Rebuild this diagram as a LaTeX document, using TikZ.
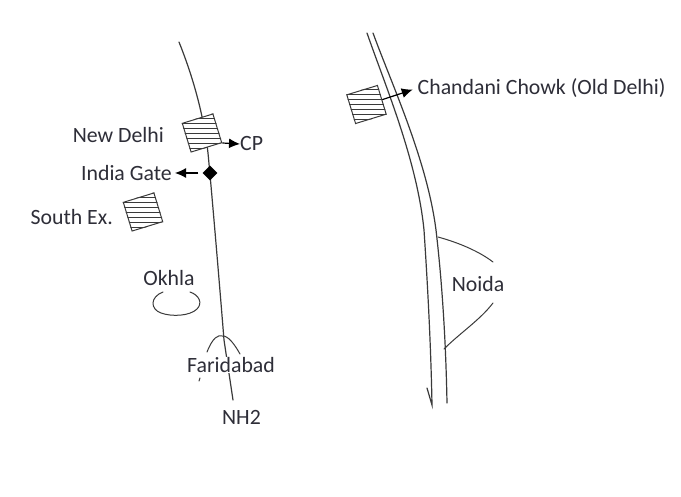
\documentclass[tikz,border=0pt]{standalone}
\usepackage{fontspec}
\setmainfont{Carlito}
\usetikzlibrary{shapes.geometric,arrows.meta}
\definecolor{ink}{HTML}{3A3A3A}
\definecolor{txt}{HTML}{2E2E38}
\tikzset{
  road/.style={draw=ink,line width=1.2pt,line cap=round},
  lbl/.style={text=txt,font=\fontsize{21.8}{25}\selectfont,inner sep=0pt},
  pointer/.style={draw=black,line width=1.2pt,-{Latex[length=11pt,width=10pt]}},
  hatchbox/.style={draw=ink,line width=1pt,rectangle,rotate=17,minimum width=32pt,minimum height=30pt,inner sep=0pt,fill=white},
}
\newcommand{\hatchlines}[3]{%
  \begin{scope}
    \clip (#1.north west) -- (#1.north east) -- (#1.south east) -- (#1.south west) -- cycle;
    \foreach \h in {-25,-20,...,25}
      \draw[ink,line width=0.8pt] (#2-30,#3+\h) -- (#2+30,#3+\h);
  \end{scope}
}
\begin{document}
\begin{tikzpicture}[x=1pt,y=-1pt]
\useasboundingbox (0,0) rectangle (681,497);
\fill[white] (0,0) rectangle (681,497);
% left highway
\coordinate (rs) at (179,42);
\coordinate (re) at (233,400);
\draw[road] (rs) .. controls (191,72) and (203,110) .. (208,153)
  .. controls (212,195) and (220,290) .. (224,340) -- (re);
\draw[road,line width=1pt] (207,352) .. controls (213,337) and (218,335) .. (222,336)
  .. controls (228,335) and (235,345) .. (240,354);
\draw[road,line width=1pt] (200,378) -- (199,381);
\node[lbl,fill=white] (far) at (231,365) {Faridabad};
\node[lbl] (nh) at (241.5,417) {NH2};
% boxes
\node[hatchbox] (nd) at (202,133) {};
\hatchlines{nd}{202}{133}
\node[hatchbox] (se) at (143,212) {};
\hatchlines{se}{143}{212}
\node[hatchbox] (cb) at (366.5,104.5) {};
\hatchlines{cb}{366.5}{104.5}
\node[diamond,fill=black,minimum size=15pt,inner sep=0pt] (ig) at (210,173) {};
\node[lbl,anchor=east] (ndl) at (164,135) {New Delhi};
\node[lbl,anchor=west] (cp) at (240,144) {CP};
\node[lbl,anchor=east] (igl) at (172,173) {India Gate};
\node[lbl,anchor=east] (sel) at (113,217) {South Ex.};
\node[lbl] (ok) at (169,278) {Okhla};
\draw[pointer] (nd.south east) -- (cp.west);
\draw[pointer,shorten >=3pt,shorten <=4pt] (ig.west) -- (igl.east);
% Okhla loop
\coordinate (oa) at (163,292);
\coordinate (ob) at (190,292);
\draw[road,line width=1pt] (oa) .. controls (150,297) and (150,309) .. (161,313)
  .. controls (172,317) and (190,316) .. (197,309)
  .. controls (203,303) and (199,295) .. (ob);
% right highway
\coordinate (la) at (367,33);
\coordinate (lb) at (432,405);
\coordinate (lt) at (427,388);
\coordinate (ra) at (373,33);
\coordinate (rb) at (447,403);
\draw[road] (la) .. controls (385,85) and (417,160) .. (424,230) .. controls (428,290) and (431,350) .. (lb) -- (lt);
\draw[road] (ra) .. controls (392,85) and (427,160) .. (436,230) .. controls (443,290) and (446,350) .. (rb);
\node[lbl] (noida) at (478,284) {Noida};
\coordinate (na) at (438,237);
\coordinate (nb) at (493,262);
\coordinate (nc) at (493,303);
\coordinate (nd2) at (444,349);
\draw[road,line width=1pt] (na) .. controls (460,243) and (480,252) .. (nb);
\draw[road,line width=1pt] (nc) .. controls (480,320) and (460,333) .. (nd2);
\node[lbl,anchor=west] (cc) at (417.5,88) {Chandani Chowk (Old Delhi)};
\draw[pointer,shorten >=5pt] (cb.east) -- (cc.west);
\end{tikzpicture}
\end{document}
